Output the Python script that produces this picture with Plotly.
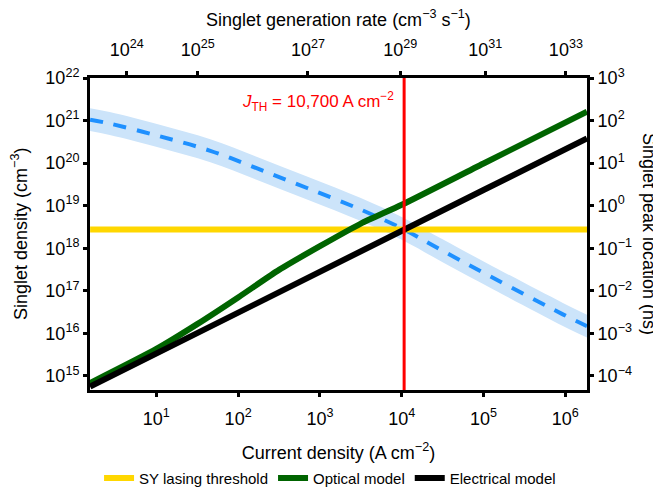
import math
import plotly.graph_objects as go

# ---------------- data ----------------
# Current density (A cm^-2)
J_black = [1.55, 10, 100, 1000, 1.0e4, 1.0e5, 1.84e6]
N_black = [5.6e14, 3.4e15, 3.1e16, 2.8e17, 2.57e18, 2.34e19, 3.8e20]   # Electrical model (cm^-3)

J_green = [1.55, 10, 31.6, 100, 316, 1000, 3162, 1.0e4, 1.0e5, 1.84e6]
N_green = [6.8e14, 4.3e15, 1.65e16, 7.0e16, 3.1e17, 1.12e18, 3.8e18, 1.05e19, 9.8e19, 1.62e21]  # Optical model

J_thresh = [1.55, 1.84e6]
N_thresh = [2.75e18, 2.75e18]   # SY lasing threshold (cm^-3)

J_peak = [1.55, 2.69, 11, 45.7, 174, 708, 3162, 1.07e4, 3.16e4, 1.32e5, 9.33e5, 1.84e6]
peak_center = [105, 85, 42.7, 19.5, 7.4, 2.57, 0.81, 0.275, 0.087, 0.020, 0.0028, 0.00148]  # ns
peak_upper = [195, 158, 79.4, 36.3, 13.8, 4.78, 1.51, 0.51, 0.162, 0.037, 0.0052, 0.00275]
peak_lower = [56.5, 45.7, 23.0, 10.5, 3.98, 1.38, 0.435, 0.148, 0.047, 0.0108, 0.0015, 0.0008]

J_TH = 10700  # threshold current density (A cm^-2)

x_tick_exp = [1, 2, 3, 4, 5, 6]
yl_tick_exp = [15, 16, 17, 18, 19, 20, 21, 22]
yr_tick_exp = [-4, -3, -2, -1, 0, 1, 2, 3]
# top axis: singlet generation rate exponents and where they sit on the current-density scale
gen_tick_exp = [24, 25, 27, 29, 31, 33]
gen_tick_J = [4.35, 32.0, 713, 9.6e3, 1.05e5, 1.016e6]

x_range = [0.189, 6.265]
yl_range = [14.67, 22]
yr_range = [-4.33, 3]

def sup(e):
    s = str(e).replace('-', '\u2212')
    return '10<sup>' + s + '</sup>'

def pw(e):
    return 10.0 ** e

FONT = 'Liberation Sans, Arial, sans-serif'

fig = go.Figure()

# band + dashed line (singlet peak location, right axis = primary 'y')
fig.add_trace(go.Scatter(x=J_peak, y=peak_lower, mode='lines', line=dict(width=0, shape='spline'),
                         showlegend=False, hoverinfo='skip', xaxis='x', yaxis='y'))
fig.add_trace(go.Scatter(x=J_peak, y=peak_upper, mode='lines', line=dict(width=0, shape='spline'),
                         fill='tonexty', fillcolor='rgb(204,228,250)',
                         showlegend=False, hoverinfo='skip', xaxis='x', yaxis='y'))
fig.add_trace(go.Scatter(x=J_peak, y=peak_center, mode='lines',
                         line=dict(color='rgb(30,144,255)', width=4, dash='13px,11px', shape='spline'),
                         showlegend=False, xaxis='x', yaxis='y'))

# density traces (left axis = 'y2')
fig.add_trace(go.Scatter(x=J_thresh, y=N_thresh, mode='lines', name='SY lasing threshold',
                         line=dict(color='#FFD700', width=6), xaxis='x', yaxis='y2'))
fig.add_trace(go.Scatter(x=J_green, y=N_green, mode='lines', name='Optical model',
                         line=dict(color='#006400', width=6, shape='spline', smoothing=0.6),
                         xaxis='x', yaxis='y2'))
fig.add_trace(go.Scatter(x=J_black, y=N_black, mode='lines', name='Electrical model',
                         line=dict(color='black', width=6), xaxis='x', yaxis='y2'))

# dummy trace for the top axis
fig.add_trace(go.Scatter(x=J_thresh, y=N_thresh, mode='markers', marker=dict(opacity=0),
                         showlegend=False, hoverinfo='skip', xaxis='x2', yaxis='y2'))

# threshold line
fig.add_shape(type='line', xref='x', yref='paper', x0=J_TH, x1=J_TH, y0=0, y1=1,
              line=dict(color='red', width=3), layer='above')

fig.add_annotation(x=math.log10(J_TH), xref='x', y=0.925, yref='paper',
                   xanchor='right', yanchor='middle', xshift=-8, showarrow=False,
                   text='<i>J</i><sub>TH</sub> = 10,700 A cm<sup>\u22122</sup>',
                   font=dict(family=FONT, size=17, color='red'))

# axis titles placed as annotations
fig.add_annotation(x=1, xref='paper', y=0.5, yref='paper', xanchor='center', yanchor='middle',
                   xshift=62, textangle=90, showarrow=False,
                   text='Singlet peak location (ns)',
                   font=dict(family=FONT, size=18, color='black'))
fig.add_annotation(x=0, xref='paper', y=0.5, yref='paper', xanchor='center', yanchor='middle',
                   xshift=-71, textangle=-90, showarrow=False,
                   text='Singlet density (cm<sup>\u22123</sup>)',
                   font=dict(family=FONT, size=18, color='black'))
fig.add_annotation(x=0.5, xref='paper', y=1, yref='paper', xanchor='center', yanchor='middle',
                   yshift=60, showarrow=False,
                   text='Singlet generation rate (cm<sup>\u22123</sup> s<sup>\u22121</sup>)',
                   font=dict(family=FONT, size=18, color='black'))

axis_common = dict(type='log', showgrid=False, zeroline=False, showline=True, linecolor='black',
                   linewidth=3, ticks='outside', ticklen=4, tickwidth=2.5, tickcolor='black',
                   tickfont=dict(family=FONT, size=18, color='black'), automargin=False)

fig.update_layout(
    width=661, height=499,
    margin=dict(l=82, r=82, t=70, b=108),
    paper_bgcolor='white', plot_bgcolor='white',
    font=dict(family=FONT, size=18, color='black'),
    xaxis=dict(axis_common, range=x_range, tickmode='array', ticklabelstandoff=6,
               tickvals=[pw(e) for e in x_tick_exp], ticktext=[sup(e) for e in x_tick_exp],
               title=dict(text='Current density (A cm<sup>\u22122</sup>)', standoff=19,
                          font=dict(family=FONT, size=18))),
    xaxis2=dict(axis_common, range=x_range, overlaying='x', side='top', anchor='y2',
                tickmode='array', ticklabelstandoff=8,
                tickvals=gen_tick_J, ticktext=[sup(e) for e in gen_tick_exp]),
    yaxis=dict(axis_common, range=yr_range, side='right', tickmode='array',
               tickvals=[pw(e) for e in yr_tick_exp], ticktext=[sup(e) for e in yr_tick_exp]),
    yaxis2=dict(axis_common, range=yl_range, side='left', overlaying='y', anchor='x',
                tickmode='array', tickvals=[pw(e) for e in yl_tick_exp],
                ticktext=[sup(e) for e in yl_tick_exp]),
    legend=dict(orientation='h', x=0.483, xanchor='center', y=-0.336, yanchor='bottom',
                font=dict(family=FONT, size=15), itemwidth=30, tracegroupgap=0,
                traceorder='normal', bgcolor='rgba(0,0,0,0)'),
    showlegend=True,
)

fig.write_html('out.html')
